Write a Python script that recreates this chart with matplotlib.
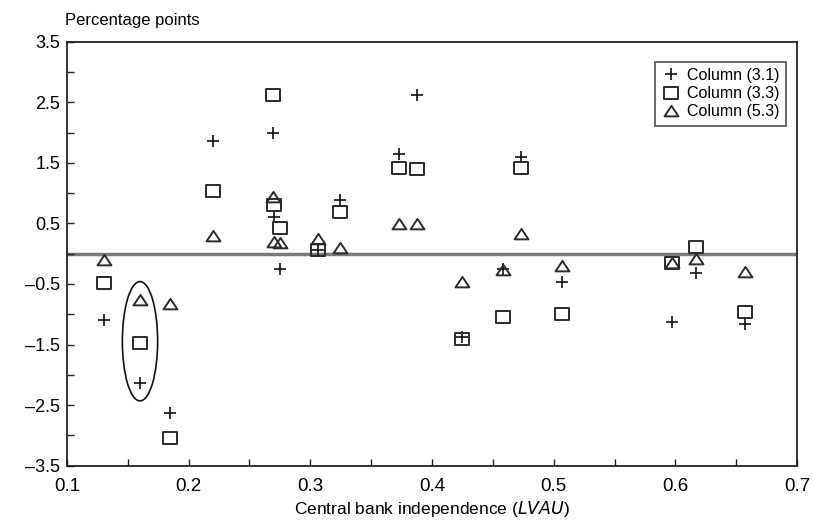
import matplotlib
matplotlib.use("Agg")
import matplotlib.pyplot as plt
from matplotlib.patches import Ellipse
from matplotlib.path import Path
import numpy as np

plt.rcParams['font.family'] = ['Liberation Sans', 'DejaVu Sans']

# Central bank independence (LVAU) per country
lvau = [0.130, 0.160, 0.185, 0.220, 0.269, 0.270, 0.275, 0.306, 0.324,
        0.373, 0.388, 0.425, 0.458, 0.473, 0.507, 0.597, 0.617, 0.657]
col_31 = [-1.09, -2.13, -2.63, 1.86, 1.99, 0.61, -0.25, 0.06, 0.89,
          1.65, 2.62, -1.38, -0.25, 1.60, -0.47, -1.13, -0.32, -1.16]
col_33 = [-0.48, -1.47, -3.04, 1.03, 2.62, 0.80, 0.42, 0.06, 0.69,
          1.41, 1.40, -1.41, -1.04, 1.41, -0.99, -0.15, 0.11, -0.96]
col_53 = [-0.10, -0.76, -0.83, 0.29, 0.94, 0.19, 0.18, 0.24, 0.09,
          0.49, 0.49, -0.47, -0.27, 0.33, -0.20, -0.15, -0.09, -0.30]
series_labels = ['Column (3.1)', 'Column (3.3)', 'Column (5.3)']
highlight_idx = 1

fig = plt.figure(figsize=(8.14, 5.22), dpi=100)
ax = fig.add_axes([67/814, 1-465.7/522, (797-67)/814, (465.7-41.7)/522])

rect = Path([(-1, -0.78), (1, -0.78), (1, 0.78), (-1, 0.78), (-1, -0.78)],
            [Path.MOVETO, Path.LINETO, Path.LINETO, Path.LINETO, Path.CLOSEPOLY])
tri = Path([(-1, -0.7), (1, -0.7), (0, 0.8), (-1, -0.7)],
           [Path.MOVETO, Path.LINETO, Path.LINETO, Path.CLOSEPOLY])

ax.axhline(0, color='#7a7a7a', lw=2.5, zorder=1)

ec = '#2a2a2a'
ax.plot(lvau, col_31, ls='none', marker='+', ms=9, mew=1.2, color='#111111',
        label=series_labels[0], zorder=3)
ax.plot(lvau, col_33, ls='none', marker=rect, ms=10.5, mew=1.4, mfc='none', mec=ec,
        label=series_labels[1], zorder=3)
ax.plot(lvau, col_53, ls='none', marker=tri, ms=10, mew=1.4, mfc='none', mec=ec,
        label=series_labels[2], zorder=3)

vals = [col_31[highlight_idx], col_33[highlight_idx], col_53[highlight_idx]]
cy = (max(vals) + min(vals)) / 2
h = (max(vals) - min(vals)) + 0.6
ax.add_patch(Ellipse((lvau[highlight_idx], cy), 0.029, h, fill=False,
                     ec='#111111', lw=1.2, zorder=2))

ax.set_xlim(0.1, 0.7)
ax.set_ylim(-3.5, 3.5)
ax.set_xticks(np.arange(0.1, 0.701, 0.1))
ax.set_xticks(np.arange(0.15, 0.7, 0.1), minor=True)
ax.set_yticks(np.arange(-3.5, 3.51, 1.0))
ax.set_yticks(np.arange(-3.0, 3.01, 1.0), minor=True)
ax.set_xticklabels(['%.1f' % v for v in np.arange(0.1, 0.701, 0.1)])
ax.set_yticklabels([('%.1f' % v).replace('-', '\u2013') for v in np.arange(-3.5, 3.51, 1.0)])
ax.tick_params(which='both', direction='in', length=5, width=1.0, color='#222222')
ax.tick_params(axis='y', labelsize=13, pad=5)
ax.tick_params(axis='x', labelsize=13.5, pad=9)
for s in ax.spines.values():
    s.set_linewidth(1.3)
    s.set_color('#222222')

ax.set_xlabel('Central bank independence ($\\it{LVAU}$)', fontsize=12.5, labelpad=3)
fig.text(65/814, 1-20/522, 'Percentage points', fontsize=12, va='center', ha='left')

leg = ax.legend(loc='upper right', bbox_to_anchor=(1 - 11/730, 1 - 20/424),
                frameon=True, fancybox=False, edgecolor='#222222', fontsize=11.5,
                handletextpad=0.4, borderpad=0.4, labelspacing=0.2,
                handlelength=1.2, borderaxespad=0)
leg.get_frame().set_linewidth(1.2)

fig.savefig('out.png', dpi=100)
